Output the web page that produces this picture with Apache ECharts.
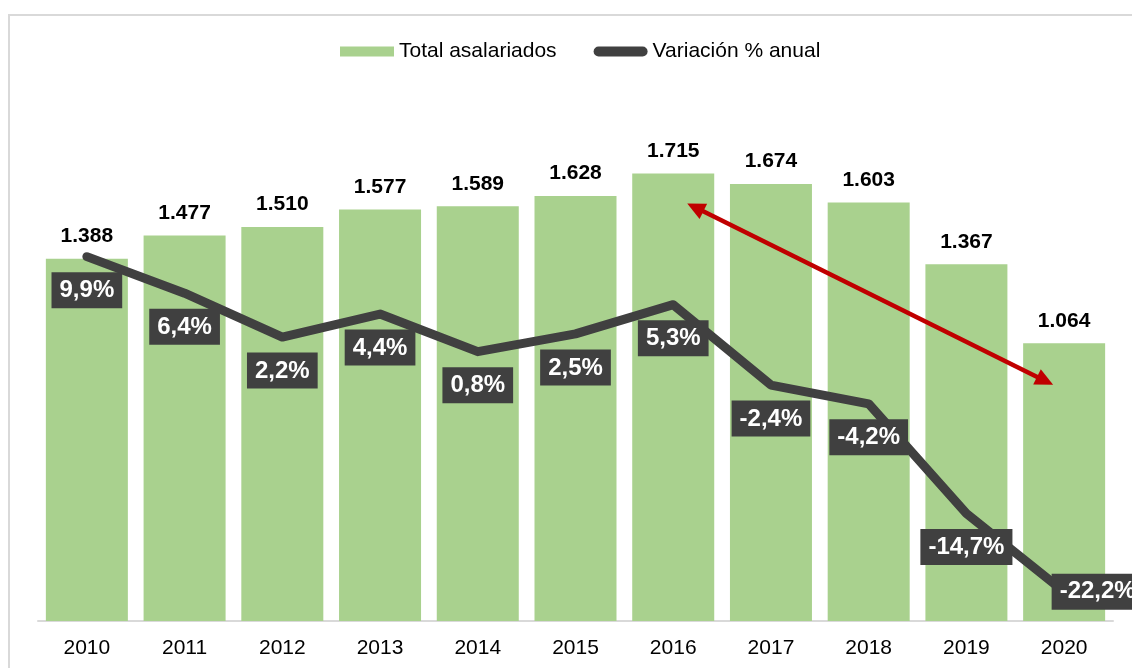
<!DOCTYPE html>
<html>
<head>
<meta charset="utf-8">
<script src="https://cdn.jsdelivr.net/npm/echarts@6/dist/echarts.min.js"></script>
<style>
html,body{margin:0;padding:0;background:#fff;}
#c{width:1132px;height:668px;}
</style>
</head>
<body>
<div id="c"></div>
<script>
var categories = ['2010','2011','2012','2013','2014','2015','2016','2017','2018','2019','2020'];
var asalariados = [1388,1477,1510,1577,1589,1628,1715,1674,1603,1367,1064];
var variacion = [9.9,6.4,2.2,4.4,0.8,2.5,5.3,-2.4,-4.2,-14.7,-22.2];
var arrowFrom = [6, 1600];
var arrowTo = [10, 905];

var FONT = '"Liberation Sans", Arial, sans-serif';
function fmtThousands(v){
  var s = String(v);
  return s.length > 3 ? s.slice(0, s.length-3) + '.' + s.slice(s.length-3) : s;
}
function fmtPct(v){ return v.toFixed(1).replace('.', ',') + '%'; }

var lineData = variacion.map(function(v, i){
  var item = {value: v};
  if (i === variacion.length - 1) {
    item.label = {position: 'right', distance: -13};
  }
  return item;
});

var chart = echarts.init(document.getElementById('c'), null, {renderer: 'canvas'});
chart.setOption({
  animation: false,
  backgroundColor: '#fff',
  textStyle: {fontFamily: FONT},
  legend: {
    left: 335, top: 36,
    itemWidth: 54, itemHeight: 10, itemGap: 37,
    textStyle: {fontFamily: FONT, fontSize: 21, color: '#000'},
    data: [
      {name: 'Total asalariados', icon: 'rect'},
      {name: 'Variación % anual', icon: 'path://M5,0 L49,0 A5,5 0 0 1 49,10 L5,10 A5,5 0 0 1 5,0 Z', itemStyle: {color: '#404040'}}
    ]
  },
  grid: {left: 38, right: 19, top: 99, bottom: 47, containLabel: false},
  xAxis: {
    type: 'category',
    data: categories,
    axisLine: {show: true, lineStyle: {color: '#d9d9d9', width: 2}},
    axisTick: {show: false},
    axisLabel: {fontFamily: FONT, fontSize: 21, color: '#000', margin: 17}
  },
  yAxis: [
    {type: 'value', min: 0, max: 2000, show: false, splitLine: {show: false}},
    {type: 'value', min: -25, max: 25, show: false, splitLine: {show: false}}
  ],
  series: [
    {
      name: 'Total asalariados',
      type: 'bar',
      data: asalariados,
      barWidth: 82,
      itemStyle: {color: '#a9d18e'},
      label: {
        show: true, position: 'top', distance: 12,
        fontFamily: FONT, fontSize: 21, fontWeight: 'bold', color: '#000',
        formatter: function(p){ return fmtThousands(p.value); }
      }
    },
    {
      name: 'Variación % anual',
      type: 'line',
      yAxisIndex: 1,
      data: lineData,
      symbol: 'circle',
      symbolSize: 1,
      showSymbol: true,
      lineStyle: {color: '#404040', width: 9, cap: 'round', join: 'round'},
      itemStyle: {color: '#404040'},
      label: {
        show: true, position: 'bottom', distance: 15,
        fontFamily: FONT, fontSize: 24, fontWeight: 'bold', color: '#fff',
        backgroundColor: '#404040', padding: [6, 8, 5, 8], lineHeight: 25,
        formatter: function(p){ return fmtPct(p.value); }
      },
      labelLayout: {hideOverlap: false},
      z: 3
    }
  ]
});

// border frame and red double arrow (positions derived from the axes)
var a = chart.convertToPixel({seriesIndex: 0}, arrowFrom);
var b = chart.convertToPixel({seriesIndex: 0}, arrowTo);
a = [a[0] + 14, a[1]];
b = [b[0] - 11, b[1]];
var dx = b[0] - a[0], dy = b[1] - a[1];
var L = Math.sqrt(dx*dx + dy*dy);
var ux = dx / L, uy = dy / L, nx = -uy, ny = ux;
var HL = 18, HW = 8.5;
function head(tip, dir){
  var bx = tip[0] - dir * ux * HL, by = tip[1] - dir * uy * HL;
  return [[tip[0], tip[1]], [bx + nx*HW, by + ny*HW], [bx - nx*HW, by - ny*HW]];
}
var aBase = [a[0] + ux*HL*0.8, a[1] + uy*HL*0.8];
var bBase = [b[0] - ux*HL*0.8, b[1] - uy*HL*0.8];
chart.setOption({
  graphic: [
    {type: 'rect', shape: {x: 9, y: 15, width: 1200, height: 720}, style: {fill: null, stroke: '#d9d9d9', lineWidth: 2}, z: -10, silent: true},
    {type: 'line', shape: {x1: aBase[0], y1: aBase[1], x2: bBase[0], y2: bBase[1]}, style: {stroke: '#c00000', lineWidth: 4.5}, z: 100},
    {type: 'polygon', shape: {points: head(a, -1)}, style: {fill: '#c00000'}, z: 100},
    {type: 'polygon', shape: {points: head(b, 1)}, style: {fill: '#c00000'}, z: 100}
  ]
});
</script>
</body>
</html>
